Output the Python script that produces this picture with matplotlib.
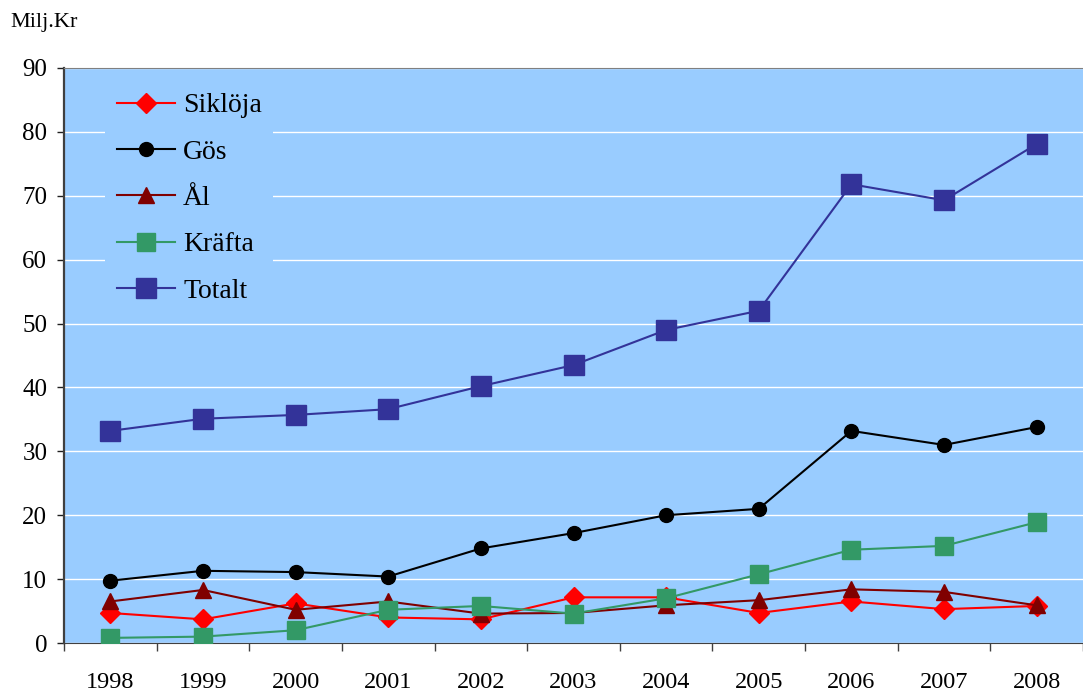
import matplotlib
matplotlib.use("Agg")
import matplotlib.pyplot as plt
import numpy as np

years = ["1998", "1999", "2000", "2001", "2002", "2003", "2004", "2005", "2006", "2007", "2008"]
sikloja = [4.7, 3.7, 6.2, 4.0, 3.7, 7.15, 7.15, 4.7, 6.5, 5.3, 5.8]
gos = [9.75, 11.3, 11.1, 10.4, 14.8, 17.2, 20.0, 21.0, 33.2, 31.0, 33.8]
al = [6.5, 8.3, 5.2, 6.5, 4.6, 4.7, 5.9, 6.7, 8.4, 8.0, 5.9]
krafta = [0.8, 1.0, 2.0, 5.2, 5.8, 4.6, 7.0, 10.75, 14.6, 15.2, 18.9]
totalt = [33.2, 35.1, 35.7, 36.6, 40.2, 43.5, 49.0, 52.0, 71.8, 69.3, 78.1]

plt.rcParams['font.family'] = ['Liberation Serif', 'DejaVu Serif']

fig = plt.figure(figsize=(10.83, 6.95), dpi=100)
ax = fig.add_axes([64/1083, 52/695, 1 - 64/1083, 575/695])
ax.set_facecolor('#99CCFF')

x = np.arange(len(years))
ax.plot(x, sikloja, color='#FF0000', marker='D', ms=10, lw=1.5, label='Siklöja', zorder=5)
ax.plot(x, gos, color='black', marker='o', ms=10, lw=1.5, label='Gös', zorder=5)
ax.plot(x, al, color='#800000', marker='^', ms=12, lw=1.5, label='Ål', zorder=5)
ax.plot(x, krafta, color='#339966', marker='s', ms=13, lw=1.5, label='Kräfta', zorder=5)
ax.plot(x, totalt, color='#333399', marker='s', ms=14, lw=1.5, label='Totalt', zorder=5)

ax.set_xlim(-0.5, len(years) - 0.5)
ax.set_ylim(0, 90)
ax.set_yticks(np.arange(0, 91, 10))
ax.set_xticks(x)
ax.set_xticklabels(years)
ax.set_xticks(np.arange(-0.5, len(years), 1), minor=True)
ax.tick_params(axis='x', which='major', length=0, pad=21, labelsize=17.5)
ax.tick_params(axis='x', which='minor', length=6, width=1, direction='out', color='#404040')
ax.tick_params(axis='y', length=5, width=1, pad=7, labelsize=18, color='#202020')

ax.grid(axis='y', color='white', lw=1)
ax.set_axisbelow(True)
ax.spines['right'].set_visible(False)
ax.spines['top'].set_color('#808080')
ax.spines['left'].set_color('#404040')
ax.spines['left'].set_linewidth(1.6)
ax.spines['bottom'].set_color('#404040')

leg = ax.legend(loc='upper left', bbox_to_anchor=(0.027, 1.0), fontsize=20,
                handlelength=2.1, labelspacing=0.75, handletextpad=0.3,
                frameon=True, facecolor='#99CCFF', edgecolor='none', framealpha=1)

fig.text(10/1083, 1 - 22/695, 'Milj.Kr', fontsize=16, va='center', ha='left')

fig.savefig('out.png', dpi=100)
